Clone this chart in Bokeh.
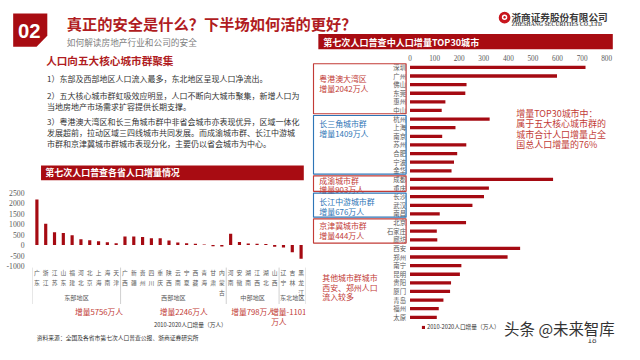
from bokeh.plotting import figure
from bokeh.layouts import column, row
from bokeh.models import (Range1d, FixedTicker, LinearAxis, Legend, LegendItem, Label)
from bokeh.core.properties import value
from bokeh.embed import file_html
from bokeh.resources import INLINE

# ---------------- data ----------------
regions = ["东部地区", "西部地区", "中部地区", "东北地区"]
east = ["广东", "浙江", "江苏", "山东", "福建", "河北", "北京", "上海", "海南", "天津"]
east_vals = [2169, 1014, 608, 573, 465, 276, 228, 185, 141, 92]
west = ["广西", "新疆", "贵州", "四川", "重庆", "陕西", "云南", "宁夏", "西藏", "青海", "甘肃", "内蒙古"]
west_vals = [410, 403, 381, 325, 321, 220, 124, 90, 64, 30, -55, -65]
central = ["河南", "安徽", "湖南", "江西", "湖北", "山西"]
central_vals = [534, 147, 74, 62, 52, -80]
northeast = ["辽宁", "吉林", "黑龙江"]
northeast_vals = [-115, -338, -646]
region_totals = [5756, 2246, 798, -1101]
prov_ticks = [-1000, -500, 0, 500, 1000, 1500, 2000, 2500]

cities = ["深圳", "广州", "佛山", "东莞", "惠州", "中山", "杭州", "上海", "南京", "苏州",
          "合肥", "宁波", "金华", "成都", "重庆", "长沙", "武汉", "南昌", "北京", "石家庄",
          "廊坊", "西安", "郑州", "南宁", "昆明", "贵阳", "厦门", "青岛", "福州", "太原"]
city_vals = [714, 598, 230, 225, 144, 129, 324, 185, 131, 229,
             192, 179, 169, 582, 321, 301, 254, 121, 228, 109,
             111, 448, 397, 209, 203, 167, 163, 136, 117, 109]
city_groups = ["粤港澳大湾区", "长三角城市群", "成渝城市群", "长江中游城市群", "京津冀城市群"]
city_group_sizes = [6, 7, 2, 3, 3]
city_group_totals = [2042, 1409, 903, 676, 444]
city_ticks = [0, 100, 200, 300, 400, 500, 600, 700, 800]

# ---------------- style ----------------
CJK = "Noto Sans CJK SC"
SERIF = "Liberation Serif"
BANNER = "#A80C12"
BAR = "#A50A12"
TITLE_RED = "#B01C22"
NOTE_RED = "#C23B36"
BLUE = "#2E75B6"
GREY = "#595959"
TEXT = "#333333"
GROUP_COLORS = [NOTE_RED, BLUE, NOTE_RED, BLUE, NOTE_RED]
LABEL_OFF = [1.75, 0.95, 0.53, 1.0, 0.82]

# the slide (640x360) is fitted into 624x344
SXP = 624 / 640
SYP = 344 / 360
F = 0.965


def fs(n):
    return "%.2fpx" % (n * F)


def canvas(w, h, x0, y0):
    return figure(width=w, height=h, x_range=Range1d(x0, x0 + w / SXP),
                  y_range=Range1d(y0 + h / SYP, y0), x_axis_type=None, y_axis_type=None,
                  output_backend="svg", toolbar_location=None, min_border=0,
                  outline_line_color=None)


def txt(p, x, y, s, size, color, bold=False, align="left", baseline="middle", font=CJK):
    p.text(x=[x], y=[y], text=[s], text_font=value(font), text_font_size=fs(size),
           text_color=color, text_font_style="bold" if bold else "normal",
           text_align=align, text_baseline=baseline)


Y_H = 50 / SYP
Y_L1 = Y_H + 132 / SYP
Y_L2 = Y_L1 + 122 / SYP

# ---------------- header ----------------
H = canvas(624, 50, 0, 0)
H.patch(x=[13, 48, 48, 37, 13], y=[13.5, 13.5, 37, 48.5, 48.5], color=BANNER, line_color=None)
txt(H, 29.5, 31.5, "02", 21, "white", bold=True, align="center", font="Liberation Sans")
txt(H, 68, 23.5, "真正的安全是什么？下半场如何活的更好？", 15.8, TITLE_RED, bold=True)
txt(H, 68, 43.5, "如何解读房地产行业和公司的安全", 9.0, "#7f7f7f")
H.circle(x=[517], y=[18], radius=6, color="#C8161E", line_color=None)
H.circle(x=[517], y=[17.5], radius=2.8, color="white", line_color=None)
H.circle(x=[517], y=[17.5], radius=1.2, color="#C8161E", line_color=None)
txt(H, 524, 17.5, "浙商证券股份有限公司", 10, "#3a3a3a", bold=True)
txt(H, 524, 24.5, "ZHESHANG SECURITIES CO.,LTD", 5.8, "#555555", bold=True, font=SERIF)
H.quad(left=[326], right=[628], top=[35], bottom=[51], color=BANNER, line_color=None)
txt(H, 331, 43, "第七次人口普查中人口增量TOP30城市", 9.4, "white", bold=True)

# ---------------- left text ----------------
L1 = canvas(312, 132, 0, Y_H)
txt(L1, 16, 63, "人口向五大核心城市群聚集", 11, TITLE_RED, bold=True)
lines = [
    (81.7, "1）东部及西部地区人口流入最多，东北地区呈现人口净流出。"),
    (99.3, "2）五大核心城市群虹吸效应明显，人口不断向大城市聚集，新增人口为"),
    (110.8, "当地房地产市场需求扩容提供长期支撑。"),
    (126.7, "3）粤港澳大湾区和长三角城市群中非省会城市亦表现优异，区域一体化"),
    (138.3, "发展超前，拉动区域三四线城市共同发展。而成渝城市群、长江中游城"),
    (149.5, "市群和京津冀城市群城市表现分化，主要仍以省会城市为中心。"),
]
for yy, s in lines:
    txt(L1, 17, yy, s, 8.3, TEXT)
L1.quad(left=[10], right=[318], top=[172.7], bottom=[188], color=BANNER, line_color=None)
txt(L1, 15, 180.5, "第七次人口普查各省人口增量情况", 9.3, "white", bold=True)

# ---------------- left chart ----------------
groups = [east, west, central, northeast]
gvals = [east_vals, west_vals, central_vals, northeast_vals]
prov_names, vals = [], []
for names, vs in zip(groups, gvals):
    prov_names += names
    vals += vs
n_prov = len(prov_names)
xpos = [i + 0.5 for i in range(n_prov)]

TOP_REF = (182 + 10) / SYP          # slide y of value 2500
K = 3500 / (278 - TOP_REF)          # data units per slide pixel


def ly(py):
    return 2500 - (py - TOP_REF) * K


L2 = figure(width=312, height=122, x_range=Range1d(0, n_prov),
            y_range=Range1d(ly(Y_L2), 2500), x_axis_type=None,
            output_backend="svg", toolbar_location=None,
            min_border_left=32, min_border_right=7, min_border_top=10, min_border_bottom=0,
            outline_line_color=None)
L2.vbar(x=xpos, top=vals, width=0.36, color=BAR, line_color=None)
L2.grid.visible = False
ya = L2.yaxis[0]
ya.ticker = FixedTicker(ticks=prov_ticks)
ya.major_label_overrides = {t: str(t) for t in prov_ticks}
ya.major_label_text_font = SERIF
ya.major_label_text_font_size = fs(8)
ya.major_label_text_color = GREY
ya.major_label_standoff = 2
ya.axis_line_color = None
ya.major_tick_line_color = None
ya.minor_tick_line_color = None

bounds, centers = [0], []
for names in groups:
    centers.append(bounds[-1] + len(names) / 2)
    bounds.append(bounds[-1] + len(names))
L2.segment(x0=bounds, x1=bounds, y0=[ly(279.5)] * len(bounds), y1=[ly(319)] * len(bounds),
           line_color="#d0d0d0", line_width=1)
L2.text(x=xpos, y=[ly(279.5)] * n_prov, text=["\n".join(n) for n in prov_names],
        text_font=value(CJK), text_font_size=fs(6.0), text_color=GREY,
        text_align="center", text_baseline="top", text_line_height=1.15)
L2.text(x=centers, y=[ly(311)] * len(centers), text=regions, text_font=value(CJK),
        text_font_size=fs(6.4), text_color=GREY, text_align="center", text_baseline="middle")

# ---------------- left chart footer ----------------
L3 = canvas(312, 40, 0, Y_L2)
FRAME_L = 32 / SXP
STEP = 273 / SXP / n_prov
start = 0
for names, total in zip(groups, region_totals):
    n = len(names)
    s = "增量%d万人" % total
    if total < 0:
        xl = FRAME_L + start * STEP - 6
        txt(L3, xl, 325.7, s[:-2], 8.0, NOTE_RED)
        txt(L3, xl, 335.7, s[-2:], 8.0, NOTE_RED)
    else:
        txt(L3, FRAME_L + (start + n / 2) * STEP, 325.7, s, 8.0, NOTE_RED, align="center")
    start += n
dummy = L3.vbar(x=[], top=[], width=1, color=BAR, line_color=None)
lg3 = Legend(items=[LegendItem(label="2010-2020人口增量（万人）", renderers=[dummy])],
             location=(116, 15), padding=0, margin=0, spacing=0, glyph_width=4, glyph_height=4,
             label_standoff=2, label_text_font=CJK, label_text_font_size=fs(5.9),
             label_text_color=TEXT, border_line_color=None, background_fill_alpha=0,
             label_height=8)
L3.add_layout(lg3)
txt(L3, 5, 352.5, "资料来源：全国及各省市第七次人口普查公报、浙商证券研究所", 6.0, TEXT)

# ---------------- right chart ----------------
SX = 800 / 201.7          # data units per slide pixel
ROW = 9.02                # slide pixels per city row


def rx(px):
    return (px - 420) * SX


def ry(py):
    return (py - 70) / ROW


R2 = figure(width=312, height=294, x_range=Range1d(rx(320), rx(640)),
            y_range=Range1d(ry(360), ry(Y_H + 12 / SYP)), x_axis_type=None, y_axis_type=None,
            output_backend="svg", toolbar_location=None, min_border_left=0,
            min_border_right=0, min_border_bottom=0, min_border_top=12,
            outline_line_color=None)
idx = list(range(len(cities)))
bars = R2.hbar(y=idx, left=0, right=city_vals, height=0.38, color=BAR, line_color=None)
R2.text(x=[0] * len(cities), y=idx, text=cities, x_offset=-4, text_font=value(CJK),
        text_font_size=fs(6.6), text_color=GREY, text_align="right", text_baseline="middle")
top_ax = LinearAxis(ticker=FixedTicker(ticks=city_ticks), axis_line_color=None,
                    major_tick_line_color=None, minor_tick_line_color=None,
                    major_tick_in=0, major_tick_out=0,
                    major_label_text_font=SERIF, major_label_text_font_size=fs(7.5),
                    major_label_text_color=GREY, major_label_standoff=2)
R2.add_layout(top_ax, "above")

start = 0
for name, n, total, col, off in zip(city_groups, city_group_sizes, city_group_totals,
                                    GROUP_COLORS, LABEL_OFF):
    t = start - 0.42
    b = start + n - 1 + 0.38
    R2.quad(left=[rx(321)], right=[rx(416)], top=[t], bottom=[b], fill_color=None,
            line_color=col, line_width=1.2)
    R2.text(x=[rx(327), rx(327)], y=[t + off, t + off + 1.1],
            text=[name, "增量%d万人" % total], text_font=value(CJK), text_font_size=fs(8.2),
            text_color=col, text_baseline="middle")
    start += n

R2.text(x=[rx(330)] * 3, y=[ry(290), ry(300), ry(310)],
        text=["其他城市群城市", "西安、郑州人口", "流入较多"], text_font=value(CJK),
        text_font_size=fs(8.2), text_color=NOTE_RED, text_baseline="middle")
R2.text(x=[rx(529)] * 4, y=[ry(118), ry(129), ry(140), ry(151)],
        text=["增量TOP30城市中：", "属于五大核心城市群的", "城市合计人口增量占全", "国总人口增量的76%"],
        text_font=value(CJK), text_font_size=fs(9.3), text_color=NOTE_RED,
        text_baseline="middle")
lg = Legend(items=[LegendItem(label="2010-2020人口增量（万人）", renderers=[bars])],
            location=(109, 13), padding=0, margin=0, spacing=0, glyph_width=4, glyph_height=4,
            label_standoff=2, label_text_font=CJK, label_text_font_size=fs(5.9),
            label_text_color=TEXT, border_line_color=None, background_fill_alpha=0,
            label_height=8)
R2.add_layout(lg)
R2.add_layout(Label(x=rx(630), y=ry(343), text="头条 @未来智库", text_align="right",
                    text_baseline="middle", text_font=CJK, text_font_size=fs(16),
                    text_color="#333333", background_fill_color="white",
                    background_fill_alpha=0.85))
R2.text(x=[rx(602)], y=[ry(355.5)], text=["18"], text_font=value(CJK),
        text_font_size=fs(8.5), text_color=TEXT, text_baseline="middle")

layout = column(H, row(column(L1, L2, L3), R2))
open("out.html", "w").write(file_html(layout, INLINE))
